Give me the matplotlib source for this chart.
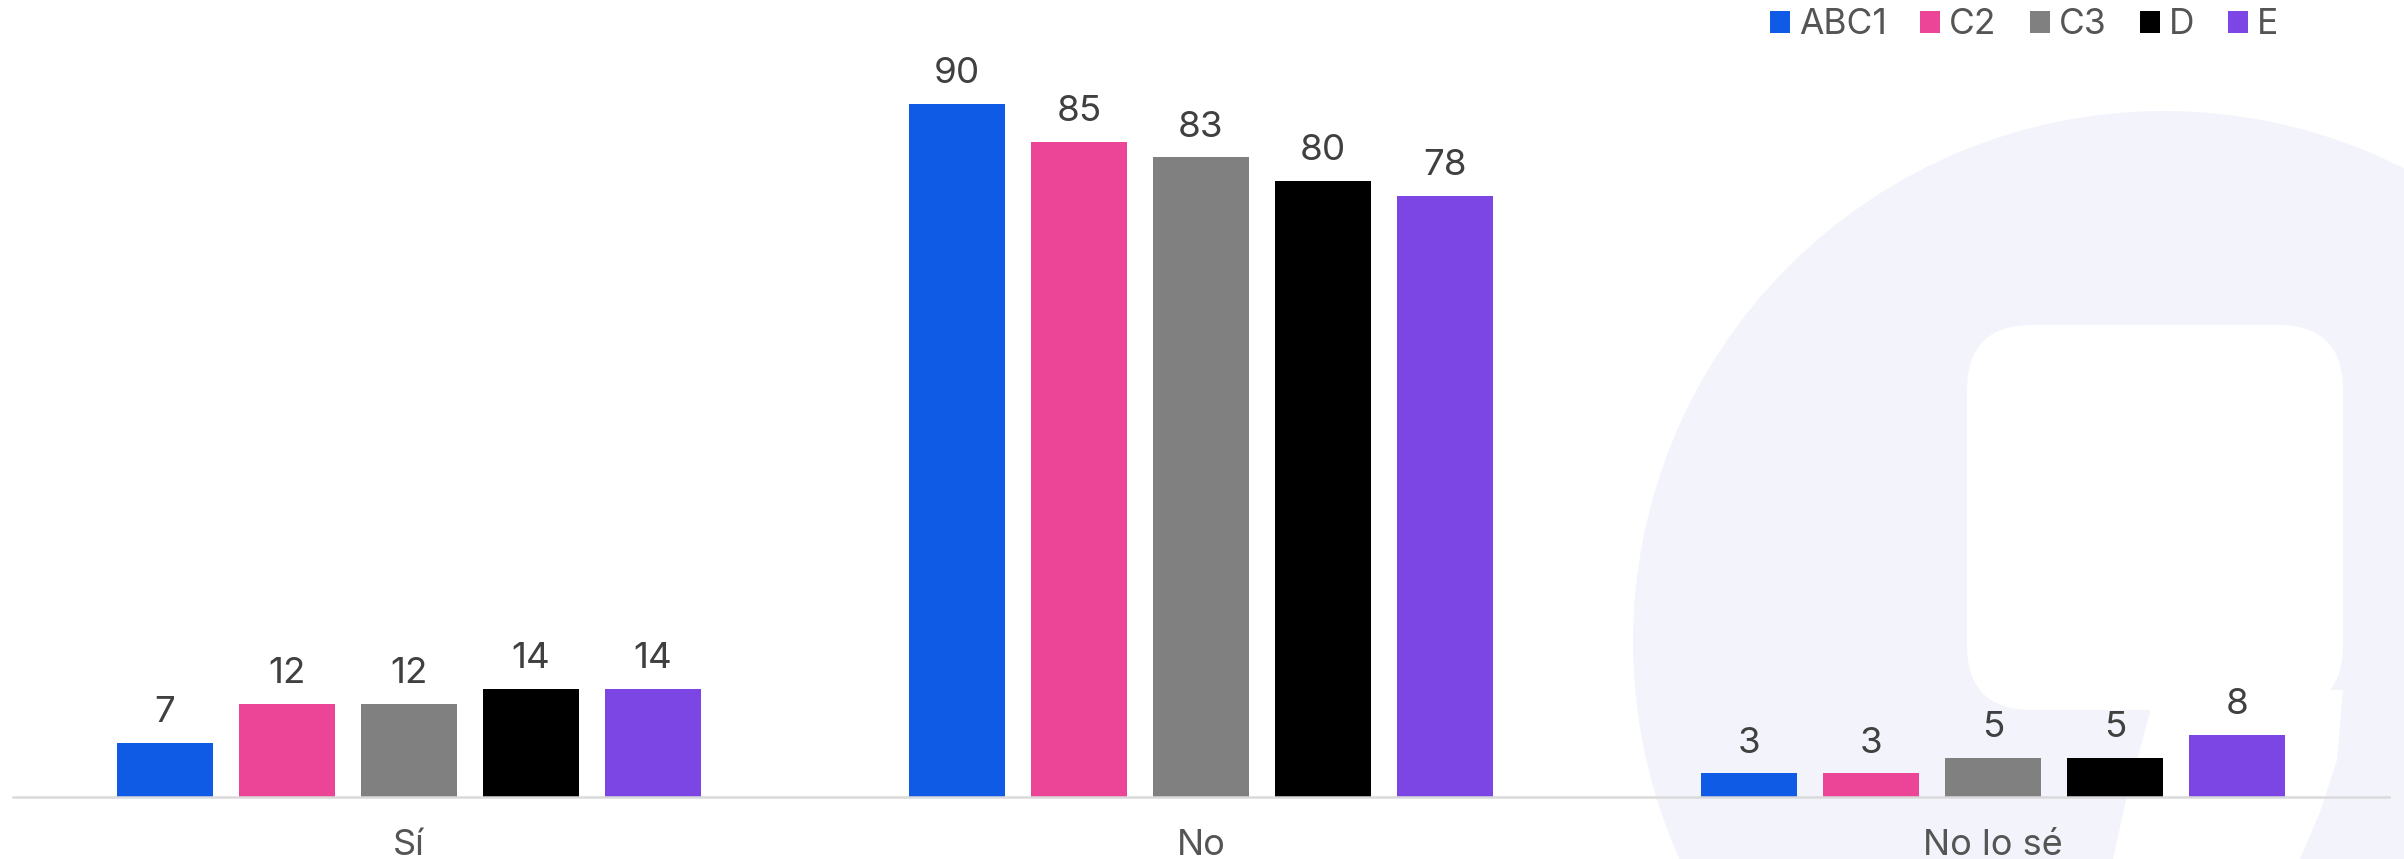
import matplotlib
matplotlib.use("Agg")
import matplotlib.pyplot as plt
import numpy as np
from matplotlib.patches import Circle, FancyBboxPatch, Polygon, Patch

# ---- data ----
categories = ["Sí", "No", "No lo sé"]
series_names = ["ABC1", "C2", "C3", "D", "E"]
abc1 = [7, 90, 3]
c2 = [12, 85, 3]
c3 = [12, 83, 5]
d = [14, 80, 5]
e = [14, 78, 8]
series_values = [abc1, c2, c3, d, e]
colors = ["#0F5BE5", "#EC4497", "#808080", "#000000", "#7B46E3"]

W, H = 2404, 859
plt.rcParams['font.family'] = ['Inter', 'DejaVu Sans']
fig = plt.figure(figsize=(W / 100, H / 100), dpi=100)
fig.patch.set_facecolor("white")

# ---- watermark background ----
bg = fig.add_axes([0, 0, 1, 1], zorder=0)
bg.set_xlim(0, W)
bg.set_ylim(H, 0)
bg.axis("off")
wm = "#F3F4FB"
bg.add_patch(Circle((2164, 642), 531, facecolor=wm, edgecolor="none"))
bg.add_patch(FancyBboxPatch((1967, 325), 376, 385,
                            boxstyle="round,pad=0,rounding_size=65",
                            facecolor="white", edgecolor="none"))
bg.add_patch(Polygon([(2150, 690), (2343, 690), (2337, 760), (2320, 812), (2300, 859),
                      (2113, 859), (2126, 800), (2140, 750), (2150, 712)],
                     closed=True, facecolor="white", edgecolor="none"))

# ---- main axes ----
left = 13 / W
right = 2389 / W
bottom = (H - 796.5) / H
top = (H - 796.5 + 770) / H
ax = fig.add_axes([left, bottom, right - left, top - bottom], zorder=1)
ax.set_facecolor("none")

FS = 26.5
x = np.arange(len(categories))
step = 0.154
width = 0.121
value_color = "#404040"
label_color = "#555555"
for i, (name, vals, col) in enumerate(zip(series_names, series_values, colors)):
    pos = x + (i - 2) * step
    bars = ax.bar(pos, vals, width=width, color=col, label=name, zorder=2)
    for b, v in zip(bars, vals):
        ax.annotate(f"{v}", (b.get_x() + b.get_width() / 2, b.get_height()),
                    xytext=(0, 15), textcoords="offset points",
                    ha="center", va="baseline", fontsize=FS, color=value_color)

ax.set_xlim(-0.5, 2.5)
ax.set_ylim(0, 100)
ax.set_xticks(x)
ax.set_xticklabels(categories, fontsize=26, color=label_color)
for t in ax.get_xticklabels():
    t.set_verticalalignment("baseline")
ax.tick_params(axis="x", length=0, pad=42)
ax.set_yticks([])
for s in ["top", "right", "left"]:
    ax.spines[s].set_visible(False)
ax.spines["bottom"].set_color("#DADADA")
ax.spines["bottom"].set_linewidth(1.8)

handles = [Patch(facecolor=c, edgecolor="none") for c in colors]
fig.legend(handles, series_names, loc="center right",
           bbox_to_anchor=(2278 / W, 1 - 25 / H), ncol=5, frameon=False,
           fontsize=25.5, labelcolor=label_color, handlelength=0.56, handleheight=0.56,
           handletextpad=0.25, columnspacing=0.95, borderpad=0, borderaxespad=0)

fig.savefig("out.png", dpi=100, facecolor="white")
